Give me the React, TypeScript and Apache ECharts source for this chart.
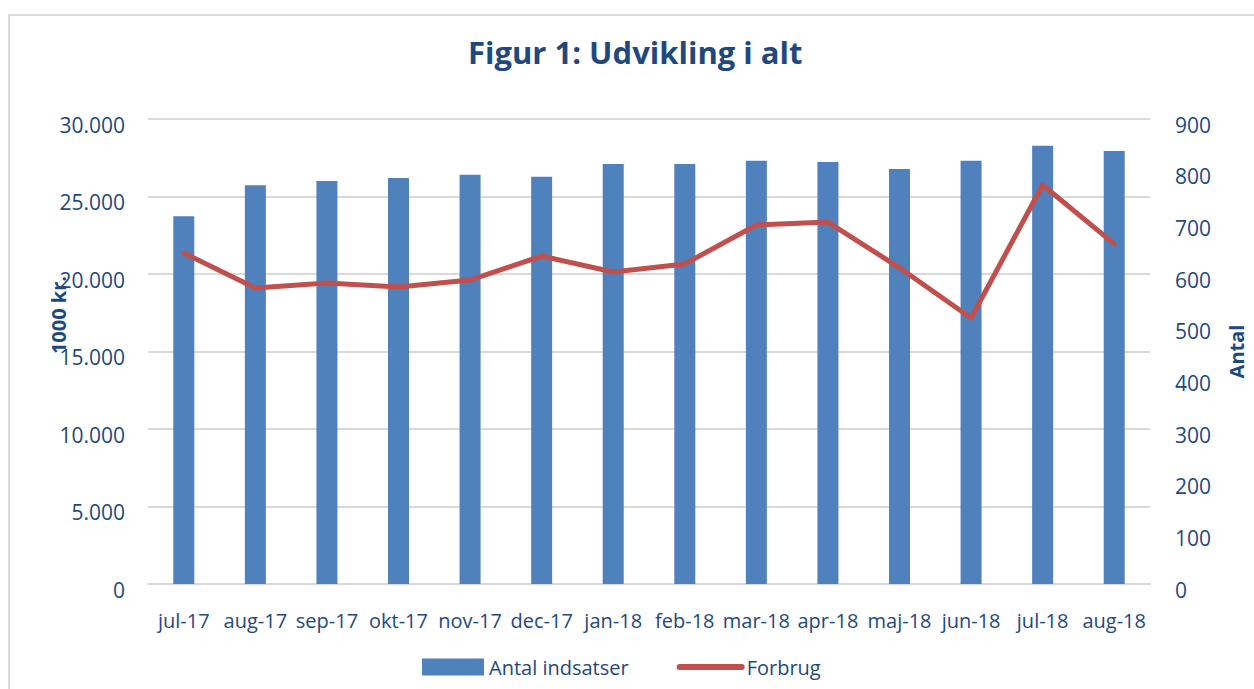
import React, { useEffect, useRef } from "react";
import * as echarts from "echarts";

const categories = [
  "jul-17", "aug-17", "sep-17", "okt-17", "nov-17", "dec-17", "jan-18",
  "feb-18", "mar-18", "apr-18", "maj-18", "jun-18", "jul-18", "aug-18",
];
const antalIndsatser = [712, 772, 780, 786, 792, 788, 813, 813, 819, 817, 803, 819, 848, 838];
const forbrug = [21350, 19100, 19420, 19160, 19610, 21160, 20130, 20650, 23160, 23350, 20400, 17160, 25740, 21940];

const TEXT = "#1F497D";
const FONT = "'Open Sans', sans-serif";

export default function App() {
  const ref = useRef<HTMLDivElement>(null);
  useEffect(() => {
    if (!ref.current) return;
    const chart = echarts.init(ref.current, undefined, { renderer: "svg" });
    chart.setOption({
      animation: false,
      backgroundColor: "#ffffff",
      textStyle: { fontFamily: FONT },
      title: {
        text: "Figur 1: Udvikling i alt",
        left: 463,
        top: 31,
        textStyle: { fontFamily: FONT, fontSize: 31, fontWeight: "bold", color: TEXT },
      },
      graphic: [
        {
          type: "rect",
          shape: { x: 9, y: 15, width: 1270, height: 700 },
          style: { fill: "none", stroke: "#D9D9D9", lineWidth: 2 },
          silent: true,
        },
        {
          type: "text",
          x: 58,
          y: 315,
          rotation: Math.PI / 2,
          style: {
            text: "1000 kr.",
            fontFamily: FONT,
            fontSize: 20,
            fontWeight: "bold",
            fill: TEXT,
            align: "center",
            verticalAlign: "middle",
          },
        },
      ],
      legend: {
        left: 422,
        top: 657,
        padding: 0,
        itemWidth: 62,
        itemHeight: 17,
        itemGap: 48,
        textStyle: { fontFamily: FONT, fontSize: 20, color: TEXT },
        data: [
          { name: "Antal indsatser", icon: "rect" },
          {
            name: "Forbrug",
            itemStyle: { color: "rgba(0,0,0,0)", borderWidth: 0 },
            lineStyle: { width: 6, cap: "round", color: "#C0504D" },
          },
        ],
      },
      grid: { left: 148, right: 81, top: 119, bottom: 105, containLabel: false },
      xAxis: {
        type: "category",
        data: categories,
        axisLine: { lineStyle: { color: "#D9D9D9", width: 2 } },
        axisTick: { show: false },
        axisLabel: { color: TEXT, fontSize: 20, fontFamily: FONT, margin: 26, interval: 0 },
      },
      yAxis: [
        {
          type: "value",
          min: 0,
          max: 30000,
          interval: 5000,
          position: "left",
          axisLine: { show: false },
          axisTick: { show: false },
          splitLine: { lineStyle: { color: "#D9D9D9", width: 2 } },
          axisLabel: {
            color: TEXT,
            fontSize: 21,
            fontFamily: FONT,
            margin: 23,
            verticalAlign: "top",
            lineHeight: 11,
            formatter: (v: number) => v.toLocaleString("de-DE"),
          },
        },
        {
          type: "value",
          min: 0,
          max: 900,
          interval: 100,
          position: "right",
          name: "Antal",
          nameLocation: "middle",
          nameGap: 76,
          nameRotate: 90,
          nameTextStyle: { color: TEXT, fontSize: 20, fontWeight: "bold", fontFamily: FONT },
          axisLine: { show: false },
          axisTick: { show: false },
          splitLine: { show: false },
          axisLabel: {
            color: TEXT,
            fontSize: 21,
            fontFamily: FONT,
            margin: 25,
            verticalAlign: "top",
            lineHeight: 11,
          },
        },
      ],
      series: [
        {
          name: "Antal indsatser",
          type: "bar",
          yAxisIndex: 1,
          data: antalIndsatser,
          barWidth: 21,
          itemStyle: { color: "#4F81BD" },
        },
        {
          name: "Forbrug",
          type: "line",
          yAxisIndex: 0,
          data: forbrug,
          symbol: "none",
          lineStyle: { color: "#C0504D", width: 5, cap: "round", join: "round" },
          itemStyle: { color: "#C0504D" },
        },
      ],
    });
    return () => chart.dispose();
  }, []);
  return (
    <div
      ref={ref}
      style={{ position: "absolute", left: 0, top: 0, width: 1254, height: 689 }}
    />
  );
}
